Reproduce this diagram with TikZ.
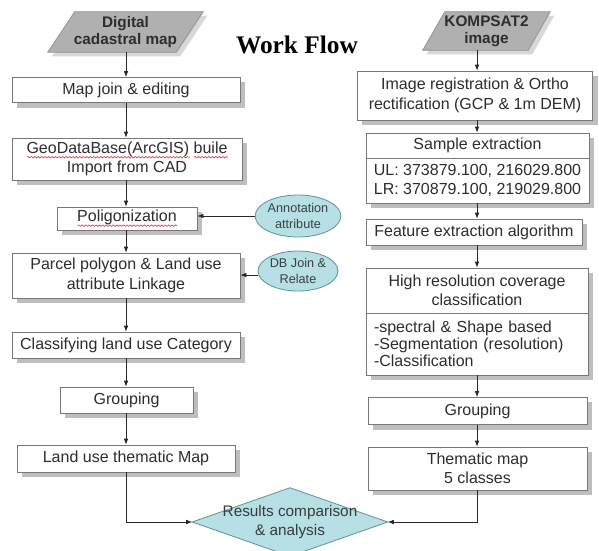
\documentclass[tikz,border=0pt]{standalone}
\usepackage{fontspec}
\setmainfont{Liberation Serif}
\setsansfont{Liberation Sans}
\usetikzlibrary{arrows.meta,shapes.geometric,decorations.pathmorphing}
\definecolor{wavered}{RGB}{225,50,50}
\definecolor{txt}{RGB}{45,45,45}
\definecolor{boxline}{RGB}{120,120,120}
\definecolor{shadowgray}{RGB}{190,190,190}
\definecolor{paragray}{RGB}{176,176,176}
\definecolor{tealfill}{RGB}{182,224,228}
\definecolor{tealline}{RGB}{95,145,155}
\definecolor{linecol}{RGB}{40,40,40}
\newlength\wavelen
\newcommand\redwave[1]{\settowidth\wavelen{#1}\leavevmode\rlap{\tikz[baseline=0pt,x=1pt,y=1pt]\draw[wavered,line width=0.45pt,decorate,decoration={snake,amplitude=0.55pt,segment length=2.6pt}] (0pt,-2.8pt) -- (\wavelen,-2.8pt);}#1}
\pgfdeclarelayer{back}
\pgfdeclarelayer{bg}
\pgfsetlayers{back,bg,main}
\begin{document}
\begin{tikzpicture}[x=0.75pt,y=-0.75pt,
  every node/.style={font=\sffamily\fontsize{12}{14.5}\selectfont, text=txt},
  box/.style={draw=boxline, fill=white, line width=0.6pt, inner sep=1pt, align=center},
  plain/.style={inner sep=0pt, align=center},
  paratext/.style={inner sep=0pt, align=center, font=\sffamily\bfseries\fontsize{11.5}{13}\selectfont},
  parashape/.style={fill=paragray, draw=boxline!80, line width=0.6pt},
  parashadow/.style={fill=shadowgray!60},
  ell/.style={ellipse, draw=tealline, fill=tealfill, line width=0.6pt, inner sep=0pt, align=center,
    font=\sffamily\fontsize{9.5}{11.5}\selectfont, text=txt!80!tealline},
  arr/.style={draw=linecol, line width=0.6pt, -{Latex[length=4.5pt,width=3.5pt]}},
]
\useasboundingbox (0,0) rectangle (599,550);
\begin{pgfonlayer}{back}
\fill[white] (0,0) rectangle (599,550);
\end{pgfonlayer}

% title
\node[font=\rmfamily\bfseries\fontsize{19}{22}\selectfont, text=black, anchor=base] (title) at (297,53) {Work Flow};

% column reference coordinates
\coordinate (colL) at (126,0);
\coordinate (colR) at (477,0);

% ---------- left column ----------
\node[paratext, minimum width=116.25pt, minimum height=30pt] (dcm) at (125.5,32) {Digital\\cadastral map};
\node[box, minimum width=171pt, minimum height=18.75pt] (mapjoin) at (126,90) {Map join \& editing};
\node[box, minimum width=172.5pt, minimum height=31.5pt] (geo) at (127,159) {\redwave{GeoDataBase(ArcGIS)} \redwave{buile}\\Import from CAD};
\node[box, minimum width=105pt, minimum height=17.25pt] (polig) at (127,218.5) {\redwave{Poligonization}};
\node[box, minimum width=171pt, minimum height=33.75pt] (parcel) at (126,275.5) {Parcel polygon \& Land use\\attribute Linkage};
\node[box, minimum width=171pt, minimum height=19.5pt] (classify) at (126,345) {Classifying land use Category};
\node[box, minimum width=99.75pt, minimum height=19.5pt] (groupL) at (126.5,400) {Grouping};
\node[box, minimum width=163.5pt, minimum height=20.25pt] (landuse) at (126,458.5) {Land use thematic Map};

\node[ell, minimum width=60pt, minimum height=31.5pt] (ann) at (298,216) {Annotation\\attribute};
\node[ell, minimum width=60pt, minimum height=30pt] (db) at (298,271) {DB Join \&\\Relate};

% ---------- right column ----------
\node[paratext, minimum width=95.25pt, minimum height=28.5pt] (kom) at (486.5,31) {KOMPSAT2\\image};
\node[box, minimum width=176.25pt, minimum height=36.75pt] (imgreg) at (475,95.5) {Image registration \& Ortho\\rectification (GCP \& 1m DEM)};
\node[box, minimum width=167.25pt, minimum height=18.75pt] (sampleTop) at (477.5,145.5) {Sample extraction};
\node[box, minimum width=167.25pt, minimum height=33.75pt, align=left] (sampleBot) at (477.5,180.5) {UL: 373879.100, 216029.800\\LR: 370879.100, 219029.800};
\node[box, minimum width=162pt, minimum height=19.5pt] (feature) at (474,232) {Feature extraction algorithm};
\node[box, minimum width=166.5pt, minimum height=33.75pt] (hrTop) at (477,290.5) {High resolution coverage\\classification};
\node[box, minimum height=46.5pt, text width=154.5pt, inner xsep=6pt, align=left, font=\sffamily\fontsize{12}{12.9}\selectfont] (hrBot) at (477,344) {-spectral \& Shape based\\-Segmentation (resolution)\\-Classification};
\node[box, minimum width=164.25pt, minimum height=20.25pt] (groupR) at (477.5,411) {Grouping};
\node[box, minimum width=164.25pt, minimum height=32.25pt] (thematic) at (477.5,468.5) {Thematic map\\5 classes};

% ---------- result diamond ----------
\node[plain, minimum width=146.25pt, minimum height=51pt, font=\sffamily\fontsize{11.5}{14}\selectfont, text=txt!85!tealline] (res) at (290,522) {Results comparison\\\& analysis};

% ---------- shapes behind text ----------
\begin{pgfonlayer}{bg}
  \foreach \n in {mapjoin,geo,polig,parcel,classify,groupL,landuse,imgreg,sampleTop,sampleBot,feature,hrTop,hrBot,groupR,thematic}
    \fill[shadowgray] ([xshift=3.75pt,yshift=-3.75pt]\n.north west) rectangle ([xshift=3.75pt,yshift=-3.75pt]\n.south east);
  \fill[parashadow] ([xshift=23.5pt,yshift=-3pt]dcm.north west) -- ([xshift=3pt,yshift=-3pt]dcm.north east)
     -- ([xshift=-17.25pt,yshift=-3pt]dcm.south east) -- ([xshift=3pt,yshift=-3pt]dcm.south west) -- cycle;
  \path[parashape] ([xshift=20.25pt]dcm.north west) -- (dcm.north east)
     -- ([xshift=-20.25pt]dcm.south east) -- (dcm.south west) -- cycle;
  \fill[parashadow] ([xshift=19.5pt,yshift=-3pt]kom.north west) -- ([xshift=3pt,yshift=-3pt]kom.north east)
     -- ([xshift=-13.5pt,yshift=-3pt]kom.south east) -- ([xshift=3pt,yshift=-3pt]kom.south west) -- cycle;
  \path[parashape] ([xshift=16.5pt]kom.north west) -- (kom.north east)
     -- ([xshift=-16.5pt]kom.south east) -- (kom.south west) -- cycle;
  \path[fill=tealfill, draw=tealline, line width=0.6pt] (res.north) -- (res.east) -- (res.south) -- (res.west) -- cycle;
\end{pgfonlayer}

% ---------- connectors ----------
\draw[arr] (dcm.south -| colL) -- (mapjoin.north -| colL);
\draw[arr] (mapjoin.south -| colL) -- (geo.north -| colL);
\draw[arr] (geo.south -| colL) -- (polig.north -| colL);
\draw[arr] (polig.south -| colL) -- (parcel.north -| colL);
\draw[arr] (parcel.south -| colL) -- (classify.north -| colL);
\draw[arr] (classify.south -| colL) -- (groupL.north -| colL);
\draw[arr] (groupL.south -| colL) -- (landuse.north -| colL);
\draw[arr] (landuse.south -| colL) |- (res.west);

\draw[arr] (ann.west) -- (ann.west -| polig.east);
\draw[arr] ([yshift=-3pt]db.west) -- ([yshift=-3pt]db.west -| parcel.east);

\draw[arr] (kom.south -| colR) -- (imgreg.north -| colR);
\draw[arr] (imgreg.south -| colR) -- (sampleTop.north -| colR);
\draw[arr] (sampleBot.south -| colR) -- (feature.north -| colR);
\draw[arr] (feature.south -| colR) -- (hrTop.north -| colR);
\draw[arr] (hrBot.south -| colR) -- (groupR.north -| colR);
\draw[arr] (groupR.south -| colR) -- (thematic.north -| colR);
\draw[arr] (thematic.south -| colR) |- (res.east);
\end{tikzpicture}
\end{document}
